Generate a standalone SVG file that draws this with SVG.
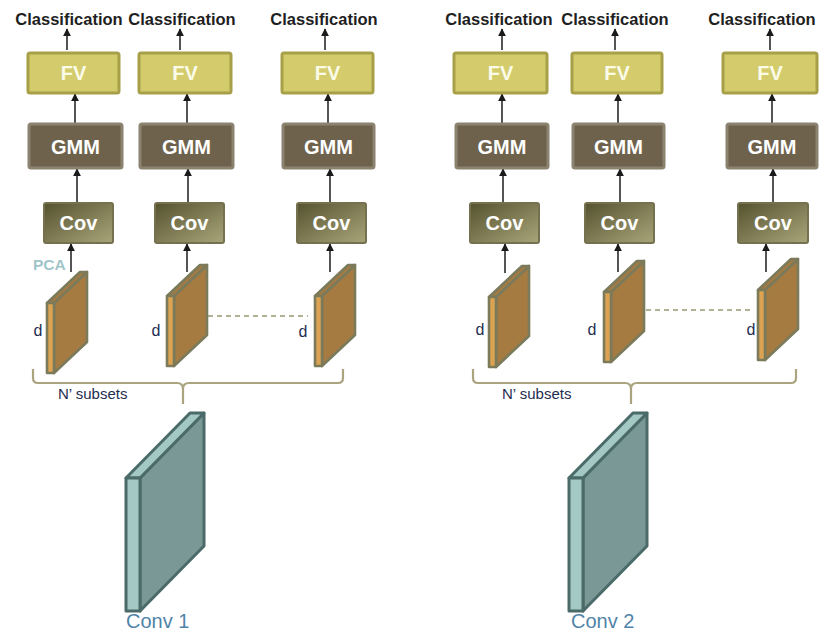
<svg xmlns="http://www.w3.org/2000/svg" width="819" height="632" viewBox="0 0 819 632">
<style>
.cls{font-family:"Liberation Sans",Arial,sans-serif;font-weight:bold;font-size:16.5px;fill:#1f1f1f;text-anchor:middle}
.bt{font-family:"Liberation Sans",Arial,sans-serif;font-weight:bold;font-size:20px;fill:#ffffff;text-anchor:middle}
.fvt{font-family:"Liberation Sans",Arial,sans-serif;font-weight:bold;font-size:20px;fill:#fbfbe8;text-anchor:middle}
.fv{fill:#d3cb6c;stroke:#a8a048;stroke-width:3}
.gmm{fill:#6e624d;stroke:#8c8270;stroke-width:3}
.cov{fill:url(#covg);stroke:#75714f;stroke-width:2}
.d{font-family:"Liberation Sans",Arial,sans-serif;font-size:16px;fill:#1f2d50;text-anchor:middle}
.sub{font-family:"Liberation Sans",Arial,sans-serif;font-size:15px;fill:#1f2d50}
.conv{font-family:"Liberation Sans",Arial,sans-serif;font-size:20px;fill:#4f84a8}
.ar{stroke:#2a2a2a;stroke-width:1.6;fill:none;marker-end:url(#ah)}
.brace{stroke:#aaa57f;stroke-width:2.2;fill:none}
.dash{stroke:#9b9872;stroke-width:1.3;stroke-dasharray:5 4;fill:none}
.sf{fill:#a57b42;stroke:#7b7a5b;stroke-width:2.6;stroke-linejoin:round}
.st{fill:#a57b42;stroke:#7b7a5b;stroke-width:2.6;stroke-linejoin:round}
.ss{fill:#dca452;stroke:#7b7a5b;stroke-width:2.6;stroke-linejoin:round}
.tf{fill:#7a9896;stroke:#4a6b69;stroke-width:3;stroke-linejoin:round}
.ts{fill:#a4c8c4;stroke:#4a6b69;stroke-width:3;stroke-linejoin:round}
</style>
<defs>
<linearGradient id="covg" x1="0" y1="0" x2="1" y2="1">
<stop offset="0" stop-color="#55522f"/>
<stop offset="1" stop-color="#a9a57a"/>
</linearGradient>
<marker id="ah" viewBox="0 0 10 10" refX="9" refY="5" markerWidth="5" markerHeight="5" orient="auto" markerUnits="strokeWidth">
<path d="M0,0 L10,5 L0,10 Z" fill="#1a1a1a"/>
</marker>
<g id="slab">
<path class="sf" d="M7,0 L40,-31 L40,39 L7,70 Z"/>
<path class="st" d="M0,0 L33,-31 L40,-31 L7,0 Z"/>
<rect class="ss" x="0" y="0" width="7" height="70"/>
</g>
<g id="cslab">
<path class="tf" d="M14,0 L78,-65 L78,68 L14,133 Z"/>
<path class="ts" d="M0,0 L64,-65 L78,-65 L14,0 Z"/>
<rect class="ts" x="0" y="0" width="14" height="133"/>
</g>
</defs>

<g id="connectors">
<line class="ar" x1="67" y1="50" x2="67" y2="29"/>
<line class="ar" x1="75" y1="123" x2="75" y2="94"/>
<line class="ar" x1="77" y1="202" x2="77" y2="169"/>
<line class="ar" x1="71" y1="272" x2="71" y2="244"/>
<line class="ar" x1="180" y1="50" x2="180" y2="29"/>
<line class="ar" x1="187" y1="123" x2="187" y2="94"/>
<line class="ar" x1="188" y1="202" x2="188" y2="169"/>
<line class="ar" x1="187" y1="272" x2="187" y2="244"/>
<line class="ar" x1="325" y1="50" x2="325" y2="29"/>
<line class="ar" x1="328" y1="123" x2="328" y2="94"/>
<line class="ar" x1="330" y1="202" x2="330" y2="169"/>
<line class="ar" x1="330" y1="272" x2="330" y2="244"/>
<line class="ar" x1="502" y1="50" x2="502" y2="29"/>
<line class="ar" x1="502" y1="123" x2="502" y2="94"/>
<line class="ar" x1="503" y1="202" x2="503" y2="169"/>
<line class="ar" x1="505" y1="273" x2="505" y2="244"/>
<line class="ar" x1="615" y1="50" x2="615" y2="29"/>
<line class="ar" x1="618" y1="123" x2="618" y2="94"/>
<line class="ar" x1="620" y1="202" x2="620" y2="169"/>
<line class="ar" x1="618" y1="272" x2="618" y2="244"/>
<line class="ar" x1="770" y1="50" x2="770" y2="29"/>
<line class="ar" x1="772" y1="123" x2="772" y2="94"/>
<line class="ar" x1="773" y1="202" x2="773" y2="169"/>
<line class="ar" x1="766" y1="272" x2="766" y2="244"/>
<line class="dash" x1="190" y1="316" x2="308" y2="316"/>
<line class="dash" x1="628" y1="310" x2="752" y2="310"/>
</g>

<g id="labels">
<text class="cls" x="69" y="25">Classification</text>
<text class="cls" x="182" y="25">Classification</text>
<text class="cls" x="324" y="25">Classification</text>
<text class="cls" x="499" y="25">Classification</text>
<text class="cls" x="615" y="25">Classification</text>
<text class="cls" x="762" y="25">Classification</text>
</g>

<g id="fv-l1"><rect class="fv" x="28" y="53" width="91" height="40" rx="2"/><text class="fvt" x="73.5" y="80">FV</text></g>
<g id="fv-l2"><rect class="fv" x="139" y="53" width="92" height="40" rx="2"/><text class="fvt" x="185" y="80">FV</text></g>
<g id="fv-l3"><rect class="fv" x="282" y="53" width="91" height="40" rx="2"/><text class="fvt" x="327.5" y="80">FV</text></g>
<g id="fv-r1"><rect class="fv" x="454" y="53" width="93" height="40" rx="2"/><text class="fvt" x="500.5" y="80">FV</text></g>
<g id="fv-r2"><rect class="fv" x="572" y="53" width="90" height="40" rx="2"/><text class="fvt" x="617" y="80">FV</text></g>
<g id="fv-r3"><rect class="fv" x="723" y="53" width="94" height="40" rx="2"/><text class="fvt" x="770" y="80">FV</text></g>

<g id="gmm-l1"><rect class="gmm" x="29" y="124" width="93" height="44" rx="2"/><text class="bt" x="75.5" y="154">GMM</text></g>
<g id="gmm-l2"><rect class="gmm" x="140" y="124" width="93" height="44" rx="2"/><text class="bt" x="186.5" y="154">GMM</text></g>
<g id="gmm-l3"><rect class="gmm" x="283" y="124" width="91" height="44" rx="2"/><text class="bt" x="328.5" y="154">GMM</text></g>
<g id="gmm-r1"><rect class="gmm" x="456" y="124" width="92" height="44" rx="2"/><text class="bt" x="502" y="154">GMM</text></g>
<g id="gmm-r2"><rect class="gmm" x="573" y="124" width="91" height="44" rx="2"/><text class="bt" x="618.5" y="154">GMM</text></g>
<g id="gmm-r3"><rect class="gmm" x="727" y="124" width="90" height="44" rx="2"/><text class="bt" x="772" y="154">GMM</text></g>

<g id="cov-l1"><rect class="cov" x="44" y="203" width="69" height="40" rx="2"/><text class="bt" x="78.5" y="230">Cov</text></g>
<g id="cov-l2"><rect class="cov" x="155" y="203" width="69" height="40" rx="2"/><text class="bt" x="189.5" y="230">Cov</text></g>
<g id="cov-l3"><rect class="cov" x="297" y="203" width="69" height="40" rx="2"/><text class="bt" x="331.5" y="230">Cov</text></g>
<g id="cov-r1"><rect class="cov" x="470" y="203" width="69" height="40" rx="2"/><text class="bt" x="504.5" y="230">Cov</text></g>
<g id="cov-r2"><rect class="cov" x="585" y="203" width="69" height="40" rx="2"/><text class="bt" x="619.5" y="230">Cov</text></g>
<g id="cov-r3"><rect class="cov" x="738" y="203" width="70" height="40" rx="2"/><text class="bt" x="773" y="230">Cov</text></g>

<g id="slab-l1"><use href="#slab" x="47" y="303"/><text class="d" x="38" y="336">d</text></g>
<g id="slab-l2"><use href="#slab" x="167" y="296"/><text class="d" x="156" y="336">d</text></g>
<g id="slab-l3"><use href="#slab" x="315" y="296"/><text class="d" x="303" y="337">d</text></g>
<g id="slab-r1"><use href="#slab" x="489" y="297"/><text class="d" x="480" y="335">d</text></g>
<g id="slab-r2"><use href="#slab" x="604" y="292"/><text class="d" x="592" y="335">d</text></g>
<g id="slab-r3"><use href="#slab" x="758" y="290"/><text class="d" x="751" y="335">d</text></g>

<text x="33" y="270" font-family="Liberation Sans, Arial, sans-serif" font-weight="bold" font-size="15.5" fill="#9fc5ca">PCA</text>

<g id="brace-l">
<path class="brace" d="M33,369 V378 Q33,383 38,383 H177 Q183,383 183,389 V404 M183,389 Q183,383 189,383 H338 Q343,383 343,378 V369"/>
<text class="sub" x="58" y="399">N’ subsets</text>
</g>
<g id="brace-r">
<path class="brace" d="M473,369 V378 Q473,383 478,383 H625 Q631,383 631,389 V404 M631,389 Q631,383 637,383 H791 Q796,383 796,378 V369"/>
<text class="sub" x="502" y="399">N’ subsets</text>
</g>

<g id="conv1"><use href="#cslab" x="126" y="478"/><text class="conv" x="126" y="628">Conv 1</text></g>
<g id="conv2"><use href="#cslab" x="569" y="478"/><text class="conv" x="571" y="628">Conv 2</text></g>
</svg>
